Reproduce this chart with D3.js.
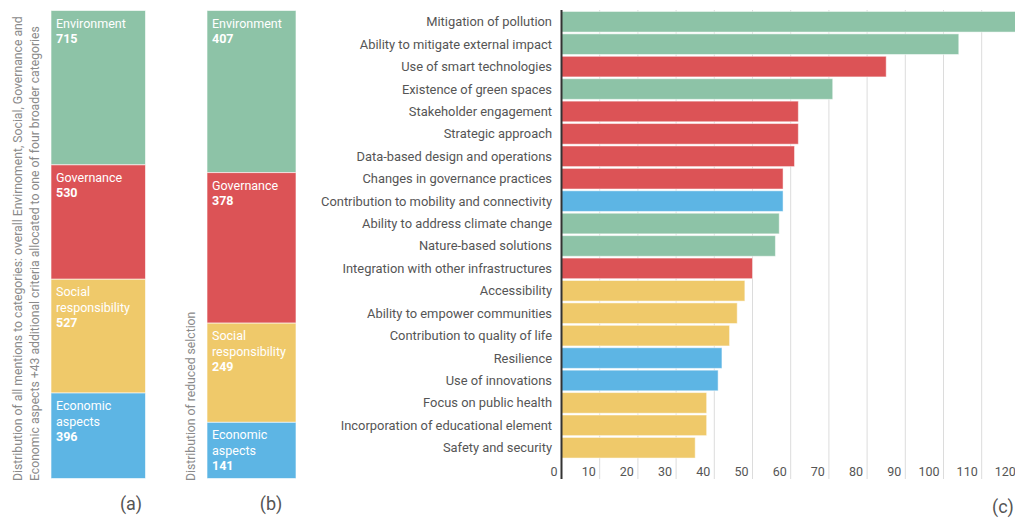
<!DOCTYPE html>
<html><head><meta charset="utf-8">
<script src="https://cdn.jsdelivr.net/npm/d3@7"></script>
<style>
html,body{margin:0;padding:0;background:#fff;overflow:hidden}
text{font-family:Roboto,"Noto Sans",sans-serif}
</style></head><body>
<svg id="c" width="1015" height="521"></svg>
<script>
// ---- data ----
const groupNames = ["Environment", "Governance", "Social responsibility", "Economic aspects"];
const groupColors = ["#8dc3a7", "#dc5356", "#efc96a", "#5db5e4"];
const allMentions = [715, 530, 527, 396];
const reducedSelection = [407, 378, 249, 141];
const criteria = ["Mitigation of pollution","Ability to mitigate external impact","Use of smart technologies","Existence of green spaces","Stakeholder engagement","Strategic approach","Data-based design and operations","Changes in governance practices","Contribution to mobility and connectivity","Ability to address climate change","Nature-based solutions","Integration with other infrastructures","Accessibility","Ability to empower communities","Contribution to quality of life","Resilience","Use of innovations","Focus on public health","Incorporation of educational element","Safety and security"];
const criteriaValues = [123,104,85,71,62,62,61,58,58,57,56,50,48,46,44,42,41,38,38,35];
const criteriaGroup = [0,0,1,0,1,1,1,1,3,0,0,1,2,2,2,3,3,2,2,2];
const xTicks = [0,10,20,30,40,50,60,70,80,90,100,110,120];
const labelA = ["Distribution of all mentions to categories: overall Envirnoment, Social, Governance and","Economic aspects +43 additional criteria allocated to one of four broader categories"];
const labelB = ["Distribution of reduced selction"];

const svg = d3.select("#c");

// ---- stacked bars (a) and (b) ----
function stacked(values, x0, x1, axisLines, axisX0, panel, panelX) {
  const total = d3.sum(values);
  const y = d3.scaleLinear().domain([0, total]).range([10.5, 478.5]);
  const cum = d3.cumsum(values);
  const g = svg.append("g");
  values.forEach((v, i) => {
    const a = i === 0 ? 0 : cum[i-1];
    g.append("rect").attr("x", x0).attr("width", x1 - x0)
      .attr("y", y(a)).attr("height", y(cum[i]) - y(a))
      .attr("fill", groupColors[i]).attr("stroke", "#fff").attr("stroke-opacity", 0.6).attr("stroke-width", 1);
    const lines = groupNames[i] === "Social responsibility" ? ["Social","responsibility"] :
                  groupNames[i] === "Economic aspects" ? ["Economic","aspects"] : [groupNames[i]];
    const t = g.append("text").attr("x", x0 + 5).attr("y", y(a) + 17)
      .attr("fill", "#fff").attr("font-size", 12.5);
    lines.forEach((l, k) => t.append("tspan").attr("x", x0 + 5).attr("dy", k === 0 ? 0 : 15.5).attr("font-weight", 400).text(l));
    t.append("tspan").attr("x", x0 + 5).attr("dy", 15.5).attr("font-weight", 700).text(v);
  });
  axisLines.forEach((l, k) => {
    svg.append("text").attr("transform", `translate(${axisX0 + k*17},481) rotate(-90)`)
      .attr("font-size", 12.2).attr("fill", "#8a8a8a").text(l);
  });
  svg.append("text").attr("x", panelX).attr("y", 510).attr("text-anchor", "middle")
    .attr("font-size", 18).attr("fill", "#555").text(panel);
}
stacked(allMentions, 51, 145.5, labelA, 22, "(a)", 131);
stacked(reducedSelection, 207, 296, labelB, 195, "(b)", 271);

// ---- horizontal bar chart (c) ----
const x = d3.scaleLinear().domain([0, 120]).range([561.5, 561.5 + 120 * 3.82]);
const y = d3.scaleBand().domain(criteria).range([11, 458.5]).paddingInner(0.08).paddingOuter(0.02);

const grid = svg.append("g");
xTicks.filter(t => t > 0).forEach(t => {
  grid.append("line").attr("x1", x(t)).attr("x2", x(t)).attr("y1", 10).attr("y2", 479)
    .attr("stroke", "#dcdcdc").attr("stroke-width", 1);
});
svg.append("g").selectAll("rect").data(criteria).join("rect")
  .attr("x", x(0)).attr("y", d => y(d))
  .attr("width", (d, i) => x(criteriaValues[i]) - x(0))
  .attr("height", y.bandwidth())
  .attr("fill", (d, i) => groupColors[criteriaGroup[i]])
  .attr("stroke", "#fff").attr("stroke-opacity", 0.5).attr("stroke-width", 1);

svg.append("g").selectAll("text").data(criteria).join("text")
  .attr("x", 552).attr("y", d => y(d) + y.bandwidth() / 2).attr("dy", "0.35em")
  .attr("text-anchor", "end").attr("font-size", 12.9).attr("fill", "#555").text(d => d);

svg.append("line").attr("x1", x(0)).attr("x2", x(0)).attr("y1", 10).attr("y2", 479)
  .attr("stroke", "#333").attr("stroke-width", 2);

svg.append("g").selectAll("text").data(xTicks).join("text")
  .attr("x", d => x(d) - 4).attr("y", 476).attr("text-anchor", "end")
  .attr("font-size", 12.5).attr("fill", "#555").text(d => d);

svg.append("text").attr("x", 992).attr("y", 513).attr("font-size", 18).attr("fill", "#555").text("(c)");
</script></body></html>
